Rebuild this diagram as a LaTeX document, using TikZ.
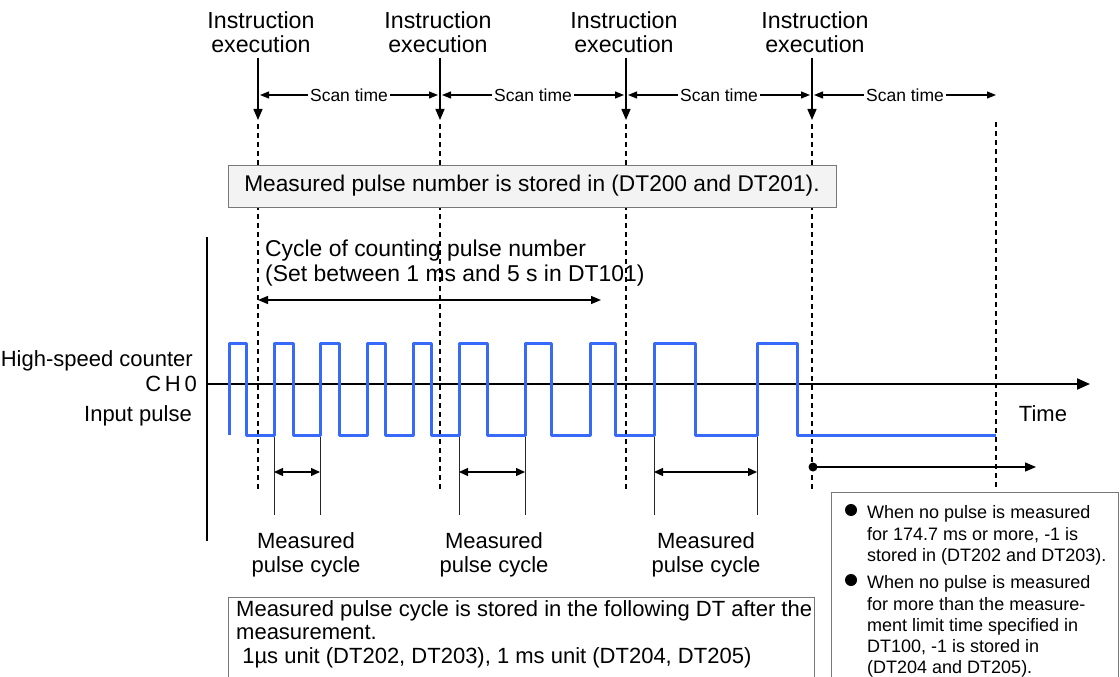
\documentclass[tikz,border=0pt]{standalone}
\usepackage{fontspec}
\setmainfont{Liberation Sans}
\usetikzlibrary{arrows.meta}
\definecolor{pulseblue}{RGB}{55,105,250}
\definecolor{boxgray}{RGB}{243,243,243}
\definecolor{edgegray}{RGB}{120,120,120}
\begin{document}
\begin{tikzpicture}[x=1pt,y=-1pt,
  big/.style={font=\fontsize{22}{24.5}\selectfont, inner sep=0pt},
  instrlbl/.style={font=\fontsize{23.2}{24.5}\selectfont, inner sep=0pt, align=center, anchor=north},
  scanlbl/.style={font=\fontsize{17.5}{20}\selectfont, fill=white, inner xsep=2pt, inner ysep=1pt},
  note/.style={font=\fontsize{18}{21.3}\selectfont, inner sep=0pt, align=left, anchor=north west},
  instr/.style={line width=1.4pt, -{Triangle[length=11pt,width=9pt]}},
  scanarr/.style={line width=1.2pt, {Triangle[length=9pt,width=7pt]}-{Triangle[length=9pt,width=7pt]}},
  guide/.style={line width=1.2pt, dash pattern=on 5pt off 4pt},
  pulse/.style={pulseblue, line width=3pt, line join=round},
  tick/.style={line width=1pt, black!85},
  cyc/.style={line width=1.3pt, {Triangle[length=9pt,width=8pt]}-{Triangle[length=9pt,width=8pt]}},
  infobox/.style={draw=edgegray, line width=1pt}
]
\useasboundingbox (0,0) rectangle (1120,677);

% instruction execution labels and arrows
\node[instrlbl] (i1) at (261,11) {Instruction\\execution};
\node[instrlbl] (i2) at (438,11) {Instruction\\execution};
\node[instrlbl] (i3) at (624,11) {Instruction\\execution};
\node[instrlbl] (i4) at (815,11) {Instruction\\execution};

\foreach \k/\x in {1/258,2/440,3/626,4/812}{
  \coordinate (a\k) at (\x,58);
  \coordinate (b\k) at (\x,120);
  \coordinate (s\k) at (\x,95);
  \coordinate (d\k) at (\x,124);
  \coordinate (e\k) at (\x,490);
}
\coordinate (s5) at (996,95);
\coordinate (d5) at (996,122);
\coordinate (e5) at (996,490);

\foreach \k in {1,2,3,4}{ \draw[instr] (a\k) -- (b\k); }
\foreach \k in {1,2,3,4,5}{ \draw[guide] (d\k) -- (e\k); }

% scan time arrows
\draw[scanarr] ([xshift=2pt]s1) -- ([xshift=-2pt]s2) node[midway, scanlbl] (sc1) {Scan time};
\draw[scanarr] ([xshift=2pt]s2) -- ([xshift=-2pt]s3) node[midway, scanlbl] (sc2) {Scan time};
\draw[scanarr] ([xshift=2pt]s3) -- ([xshift=-2pt]s4) node[midway, scanlbl] (sc3) {Scan time};
\draw[scanarr] ([xshift=2pt]s4) -- (s5) node[midway, scanlbl] (sc4) {Scan time};

% stored pulse number box
\node[draw=edgegray, fill=boxgray, line width=1pt, minimum width=608pt, minimum height=42pt,
      font=\fontsize{22.7}{24.5}\selectfont, inner sep=0pt] (numbox) at (532,186)
      {Measured pulse number is stored in (DT200 and DT201).};

% axes
\coordinate (vtop) at (207,237);
\coordinate (vbot) at (207,541);
\draw[line width=2.5pt] (vtop) -- (vbot);
\coordinate (ax0) at (207,384);
\coordinate (ax1) at (1090,384);
\draw[line width=2pt, -{Triangle[length=13pt,width=11pt]}] (ax0) -- (ax1);

% cycle of counting
\node[font=\fontsize{22.9}{25}\selectfont, inner sep=0pt, align=left, anchor=north west] (cyctxt) at (265,240)
  {Cycle of counting pulse number\\(Set between 1 ms and 5 s in DT101)};
\coordinate (ca) at (258,300);
\coordinate (cb) at (601,300);
\draw[line width=1.3pt, {Triangle[length=10pt,width=8pt]}-{Triangle[length=10pt,width=8pt]}] (ca) -- (cb);

% left labels
\node[big, anchor=base east] (hsc) at (193,366) {High-speed counter};
\node[big, anchor=base east] (ch0) at (197,391) {C\,H\,0};
\node[big, anchor=base east] (inp) at (192,421) {Input pulse};
\node[big, anchor=base] (time) at (1043,421) {Time};

% pulse train
\draw[pulse] (229,435) -- (229,343) -- (246,343) -- (246,435)
  -- (274,435) -- (274,343) -- (293,343) -- (293,435)
  -- (320,435) -- (320,343) -- (339,343) -- (339,435)
  -- (367,435) -- (367,343) -- (385,343) -- (385,435)
  -- (413,435) -- (413,343) -- (431,343) -- (431,435)
  -- (459,435) -- (459,343) -- (487,343) -- (487,435)
  -- (525,435) -- (525,343) -- (551,343) -- (551,435)
  -- (590,435) -- (590,343) -- (615,343) -- (615,435)
  -- (654,435) -- (654,343) -- (695,343) -- (695,435)
  -- (757,435) -- (757,343) -- (797,343) -- (797,435)
  -- (996,435);

% measured pulse cycles
\foreach \k/\xa/\xb in {1/274/320,2/459/525,3/654/757}{
  \coordinate (ma\k) at (\xa,437);
  \coordinate (mb\k) at (\xb,437);
  \coordinate (mc\k) at (\xa,515);
  \coordinate (md\k) at (\xb,515);
  \coordinate (me\k) at (\xa,472);
  \coordinate (mf\k) at (\xb,472);
  \draw[tick] (ma\k) -- (mc\k);
  \draw[tick] (mb\k) -- (md\k);
  \draw[cyc] (me\k) -- (mf\k);
}
\node[big, align=center, anchor=north] (mp1) at (306,532) {Measured\\pulse cycle};
\node[big, align=center, anchor=north] (mp2) at (494,532) {Measured\\pulse cycle};
\node[big, align=center, anchor=north] (mp3) at (706,532) {Measured\\pulse cycle};

% no-pulse arrow
\coordinate (np0) at (813,467);
\coordinate (np1) at (1036,467);
\fill (np0) circle (4.5pt);
\draw[line width=1.3pt, -{Triangle[length=11pt,width=9pt]}] (np0) -- (np1);

% bottom-left box
\draw[infobox] (228,690) -- (228,597) -- (814,597) -- (814,690);
\node[font=\fontsize{22}{23.5}\selectfont, inner sep=0pt, align=left, anchor=north west] (cyclebox) at (236,600)
  {Measured pulse cycle is stored in the following DT after the\\measurement.\\\ 1\textmu s unit (DT202, DT203), 1 ms unit (DT204, DT205)};

% right box
\draw[infobox] (831,690) -- (831,492) -- (1118,492) -- (1118,690);
\fill (851,510) circle (6pt);
\fill (851,580) circle (6pt);
\node[note] (n1) at (867,505.5) {When no pulse is measured\\for 174.7 ms or more, -1 is\\stored in (DT202 and DT203).};
\node[note] (n2) at (867,575.5) {When no pulse is measured\\for more than the measure-\\ment limit time specified in\\DT100, -1 is stored in\\(DT204 and DT205).};
\end{tikzpicture}
\end{document}
